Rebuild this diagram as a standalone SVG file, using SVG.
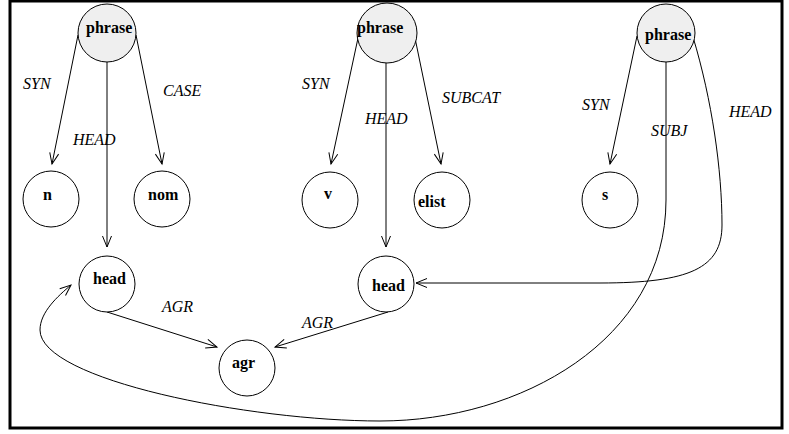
<svg xmlns="http://www.w3.org/2000/svg" width="789" height="434" viewBox="0 0 789 434">
<style>
.node{fill:#ffffff;stroke:#000;stroke-width:1}
.root{fill:#efefef;stroke:#000;stroke-width:1}
.nt{font-family:"Liberation Serif",serif;font-weight:bold;font-size:16px;fill:#000}
.lb{font-family:"Liberation Serif",serif;font-style:italic;font-size:16px;fill:#000}
.e{fill:none;stroke:#000;stroke-width:1;marker-end:url(#ah)}
</style>
<defs>
<marker id="ah" markerUnits="userSpaceOnUse" viewBox="-13 -7 15 14" refX="0" refY="0" markerWidth="15" markerHeight="14" orient="auto" overflow="visible">
<path d="M -11 -4.5 L 0 0 L -11 4.5" fill="none" stroke="#000" stroke-width="1"/>
</marker>
</defs>
<rect x="10" y="1" width="772" height="427" fill="#fff" stroke="#000" stroke-width="3"/>
<g id="connectors">
<path class="e" d="M 78 35 L 52 164"/>
<path class="e" d="M 107 62 L 107 247"/>
<path class="e" d="M 136 35 L 162 164"/>
<path class="e" d="M 358 38 L 331 164"/>
<path class="e" d="M 386 63 L 386 247"/>
<path class="e" d="M 415 38 L 441 164"/>
<path class="e" d="M 637 36 L 610 164"/>
<path class="e" d="M 666 62 L 666 200 C 666 340, 520 421, 380 421 C 250 421, 40 380, 40 330 C 40 312, 58 296, 71 285"/>
<path class="e" d="M 693 37 C 712 100, 722 170, 722 225 C 722 268, 690 283, 600 283 L 416 283"/>
<path class="e" d="M 107 312 L 217 347"/>
<path class="e" d="M 388 312 L 275 347"/>
<text class="lb" x="23" y="89">SYN</text>
<text class="lb" x="73" y="145">HEAD</text>
<text class="lb" x="163" y="96">CASE</text>
<text class="lb" x="302" y="89">SYN</text>
<text class="lb" x="365" y="124">HEAD</text>
<text class="lb" x="442" y="103">SUBCAT</text>
<text class="lb" x="582" y="110">SYN</text>
<text class="lb" x="651" y="136">SUBJ</text>
<text class="lb" x="729" y="117">HEAD</text>
<text class="lb" x="162" y="312">AGR</text>
<text class="lb" x="302" y="328">AGR</text>
</g>
<g id="phrase1"><circle class="root" cx="107" cy="33" r="29"/><text class="nt" x="86" y="33">phrase</text></g>
<g id="phrase2"><circle class="root" cx="387" cy="33" r="30"/><text class="nt" x="357" y="33">phrase</text></g>
<g id="phrase3"><circle class="root" cx="666" cy="33" r="29"/><text class="nt" x="645" y="40">phrase</text></g>
<g id="n"><circle class="node" cx="51" cy="199" r="28"/><text class="nt" x="43" y="200">n</text></g>
<g id="nom"><circle class="node" cx="162" cy="199" r="28"/><text class="nt" x="148" y="200">nom</text></g>
<g id="v"><circle class="node" cx="330" cy="200" r="28"/><text class="nt" x="324" y="199">v</text></g>
<g id="elist"><circle class="node" cx="442" cy="200" r="28"/><text class="nt" x="418" y="207">elist</text></g>
<g id="s"><circle class="node" cx="610" cy="200" r="28"/><text class="nt" x="602" y="200">s</text></g>
<g id="head1"><circle class="node" cx="107" cy="284" r="28"/><text class="nt" x="93" y="284">head</text></g>
<g id="head2"><circle class="node" cx="386" cy="284" r="28"/><text class="nt" x="372" y="291">head</text></g>
<g id="agr"><circle class="node" cx="247" cy="368" r="28"/><text class="nt" x="232" y="368">agr</text></g>
</svg>
